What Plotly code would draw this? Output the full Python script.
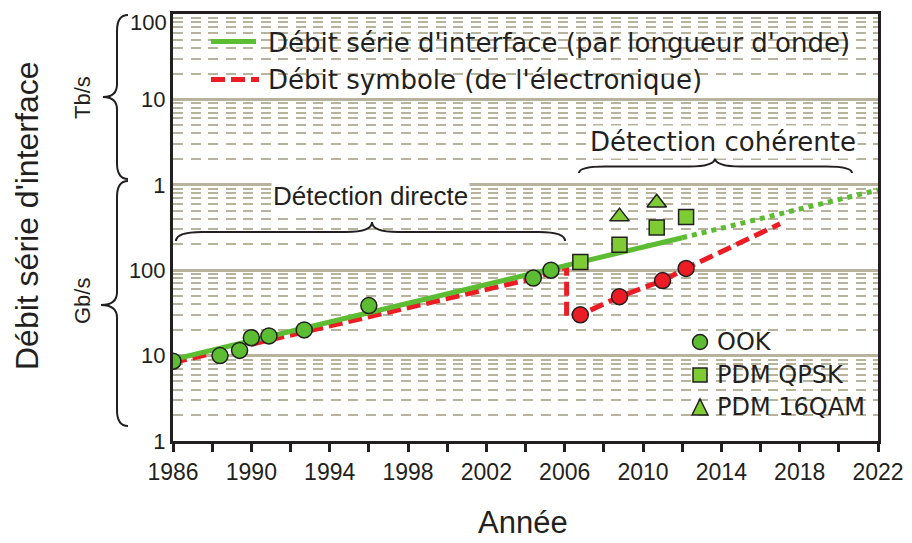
import plotly.graph_objects as go

# ---------------- data (Gb/s vs year) ----------------
ook_years = [1986, 1988.4, 1989.4, 1990.0, 1990.9, 1992.7, 1996.0, 2004.4, 2005.3]
ook_rate = [8.6, 10, 11.5, 16.2, 17.0, 20.0, 38.5, 81, 100]

qpsk_years = [2006.8, 2008.8, 2010.7, 2012.2]
qpsk_rate = [125, 198, 317, 420]

qam16_years = [2008.8, 2010.7]
qam16_rate = [424, 615]

symbol_years = [2006.8, 2008.8, 2011.0, 2012.2]
symbol_rate = [30, 49, 75.5, 105]

serial_years = [1986, 2012, 2022]          # solid until 2012, dotted after
serial_rate = [9, 240, 870]

baud_years = [1986, 2004.4, 2006.1, 2006.1, 2006.8, 2008.8, 2011.0, 2012.2, 2017]
baud_rate = [8.3, 80, 109, 28.5, 30, 49, 75.5, 105, 350]

y_tickvals = [1, 10, 100, 1000, 10000, 100000]
y_ticktext = ["1", "10", "100", "1", "10", "100"]
x_tickvals = list(range(1986, 2023, 2))
x_ticktext = [str(v) if (v - 1986) % 4 == 0 else "" for v in x_tickvals]

legend_lines = ["Débit série d'interface (par longueur d'onde)",
                "Débit symbole (de l'électronique)"]
legend_markers = ["OOK", "PDM QPSK", "PDM 16QAM"]

# ---------------- style ----------------
OFF = 8                      # page body margin
W, H = 912 - OFF, 543 - OFF
PL, PR, PT, PB = 173, 878, 14, 441   # plot box in window pixels
L, R, T, B = PL - OFF, W - (PR - OFF), PT - OFF, H - (PB - OFF)
PW, PH = PR - PL, PB - PT
GREEN = "#5dbd32"
GREEN_L = "#7ecb34"
RED = "#ec1c24"
INK = "#231f20"
GRID = "#b7b39d"

def px(x):
    return (x - PL) / PW

def py(y):
    return (PB - y) / PH

def path(points):
    out = []
    for cmd, pts in points:
        s = cmd + " " + " ".join(f"{px(a):.5f},{py(b):.5f}" for a, b in pts)
        out.append(s)
    return " ".join(out)

def vbrace(x_end, x_body, x_tip, y_top, y_mid, y_bot, r):
    return path([
        ("M", [(x_end, y_top)]),
        ("Q", [(x_body, y_top), (x_body, y_top + r)]),
        ("L", [(x_body, y_mid - r * 0.8)]),
        ("Q", [(x_body, y_mid), (x_tip, y_mid)]),
        ("Q", [(x_body, y_mid), (x_body, y_mid + r * 0.8)]),
        ("L", [(x_body, y_bot - r)]),
        ("Q", [(x_body, y_bot), (x_end, y_bot)]),
    ])

def hbrace(x_left, x_mid, x_right, y_end, y_body, y_tip, r):
    return path([
        ("M", [(x_left, y_end)]),
        ("Q", [(x_left, y_body), (x_left + r, y_body)]),
        ("L", [(x_mid - r, y_body)]),
        ("Q", [(x_mid, y_body), (x_mid, y_tip)]),
        ("Q", [(x_mid, y_body), (x_mid + r, y_body)]),
        ("L", [(x_right - r, y_body)]),
        ("Q", [(x_right, y_body), (x_right, y_end)]),
    ])

fig = go.Figure()

# lines
fig.add_trace(go.Scatter(x=baud_years, y=baud_rate, mode="lines",
                         line=dict(color=RED, width=5, dash="14px,6px"),
                         showlegend=False, hoverinfo="skip"))
fig.add_trace(go.Scatter(x=serial_years[:2], y=serial_rate[:2], mode="lines",
                         line=dict(color=GREEN, width=5),
                         showlegend=False, hoverinfo="skip"))
fig.add_trace(go.Scatter(x=serial_years[1:], y=serial_rate[1:], mode="lines",
                         line=dict(color=GREEN, width=5, dash="dot"),
                         showlegend=False, hoverinfo="skip"))

mk_line = dict(color=INK, width=1.5)
fig.add_trace(go.Scatter(x=ook_years, y=ook_rate, mode="markers",
                         marker=dict(symbol="circle", size=16, color=GREEN, line=mk_line),
                         showlegend=False))
fig.add_trace(go.Scatter(x=qpsk_years, y=qpsk_rate, mode="markers",
                         marker=dict(symbol="square", size=15, color=GREEN_L, line=mk_line),
                         showlegend=False))
fig.add_trace(go.Scatter(x=qam16_years, y=qam16_rate, mode="markers",
                         marker=dict(symbol="triangle-up", size=17, color=GREEN_L, line=mk_line),
                         showlegend=False))
fig.add_trace(go.Scatter(x=symbol_years, y=symbol_rate, mode="markers",
                         marker=dict(symbol="circle", size=16, color=RED, line=mk_line),
                         showlegend=False))

shapes = []
# semi-transparent box behind top legend text
shapes.append(dict(type="rect", xref="paper", yref="paper", layer="between",
                   x0=px(257), x1=px(817), y0=py(100), y1=py(14),
                   fillcolor="rgba(255,255,255,0.7)", line=dict(width=0)))
# opaque box behind marker legend
shapes.append(dict(type="rect", xref="paper", yref="paper", layer="between",
                   x0=px(690), x1=px(848), y0=py(406), y1=py(359),
                   fillcolor="white", line=dict(width=0)))
# legend line samples
shapes.append(dict(type="line", xref="paper", yref="paper",
                   x0=px(211), x1=px(256), y0=py(41.5), y1=py(41.5),
                   line=dict(color=GREEN, width=5)))
shapes.append(dict(type="line", xref="paper", yref="paper",
                   x0=px(211), x1=px(259), y0=py(79.5), y1=py(79.5),
                   line=dict(color=RED, width=5, dash="14px,6px")))
# marker legend symbols
r = 7.5
shapes.append(dict(type="circle", xref="paper", yref="paper",
                   x0=px(700 - r), x1=px(700 + r), y0=py(342 + r), y1=py(342 - r),
                   fillcolor=GREEN, line=dict(color=INK, width=1.5)))
shapes.append(dict(type="rect", xref="paper", yref="paper",
                   x0=px(700 - 7), x1=px(700 + 7), y0=py(375 + 7), y1=py(375 - 7),
                   fillcolor=GREEN_L, line=dict(color=INK, width=1.5)))
shapes.append(dict(type="path", xref="paper", yref="paper",
                   path=path([("M", [(692, 415)]), ("L", [(708, 415)]), ("L", [(700, 399)])]) + " Z",
                   fillcolor=GREEN_L, line=dict(color=INK, width=1.5)))
# braces
brace_line = dict(color=INK, width=2)
shapes.append(dict(type="path", xref="paper", yref="paper",
                   path=vbrace(128, 117, 103, 15, 97, 179, 16), line=brace_line))
shapes.append(dict(type="path", xref="paper", yref="paper",
                   path=vbrace(128, 117, 101, 181, 305, 426, 16), line=brace_line))
shapes.append(dict(type="path", xref="paper", yref="paper",
                   path=hbrace(176, 372, 565, 241, 232, 222, 26), line=brace_line))
shapes.append(dict(type="path", xref="paper", yref="paper",
                   path=hbrace(579, 715, 852, 173, 166.5, 158, 26), line=brace_line))

annotations = []
def ann(text, x, y, size, family, xanchor="center", angle=0, bg=None, yanchor="middle"):
    d = dict(text=text, xref="paper", yref="paper", x=px(x), y=py(y),
             xanchor=xanchor, yanchor=yanchor, showarrow=False, textangle=angle,
             font=dict(size=size, family=family, color=INK), borderpad=0)
    if bg:
        d["bgcolor"] = bg
        d["borderpad"] = 1
    annotations.append(d)

ann(legend_lines[0], 267, 43, 26, "DejaVu Sans", xanchor="left")
ann(legend_lines[1], 267, 80, 26, "DejaVu Sans", xanchor="left")
ann(legend_markers[0], 716, 342, 24, "DejaVu Sans", xanchor="left")
ann(legend_markers[1], 716, 375, 24, "DejaVu Sans", xanchor="left")
ann(legend_markers[2], 716, 407, 24, "DejaVu Sans", xanchor="left")
ann("Détection directe", 370, 196, 26, "Liberation Sans", bg="white")
ann("Détection cohérente", 723, 142, 26, "DejaVu Sans", bg="white")
ann("Tb/s", 82, 98, 22, "Liberation Sans", angle=-90)
ann("Gb/s", 82, 301, 22, "Liberation Sans", angle=-90)
ann("Débit série d'interface", 27, 216, 32, "Liberation Sans", angle=-90)
ann("Année", 523, 522, 31, "Liberation Sans Narrow, Liberation Sans")
# top tick label kept inside the page
ann(y_ticktext[-1], 168, 8.5, 22, "Liberation Sans", xanchor="right", yanchor="top")

fig.update_layout(
    width=W, height=H,
    margin=dict(l=L, r=R, t=T, b=B, autoexpand=False),
    paper_bgcolor="white", plot_bgcolor="white",
    showlegend=False,
    shapes=shapes, annotations=annotations,
    xaxis=dict(range=[1986, 2022], tickmode="array", tickvals=x_tickvals, ticktext=x_ticktext,
               ticks="outside", ticklen=8, tickwidth=2.5, tickcolor=INK, automargin=False,
               showline=True, linecolor=INK, linewidth=3, mirror=True,
               showgrid=False, zeroline=False, ticklabeloverflow="allow",
               tickfont=dict(size=23, family="Liberation Sans Narrow, Liberation Sans", color=INK)),
    yaxis=dict(type="log", range=[0, 5], tickmode="array", tickvals=y_tickvals,
               ticktext=y_ticktext[:-1] + [""],
               ticks="", showline=True, linecolor=INK, linewidth=3, mirror=True, automargin=False,
               showgrid=True, gridcolor=GRID, gridwidth=3, zeroline=False,
               ticklabeloverflow="allow",
               tickfont=dict(size=22, family="Liberation Sans", color=INK),
               minor=dict(tickmode="array",
                          tickvals=[m * 10 ** e for e in range(5) for m in range(2, 10)],
                          showgrid=True, gridcolor=GRID, gridwidth=2, griddash="10px,7.5px",
                          ticks="")),
)

fig.write_html("out.html")
